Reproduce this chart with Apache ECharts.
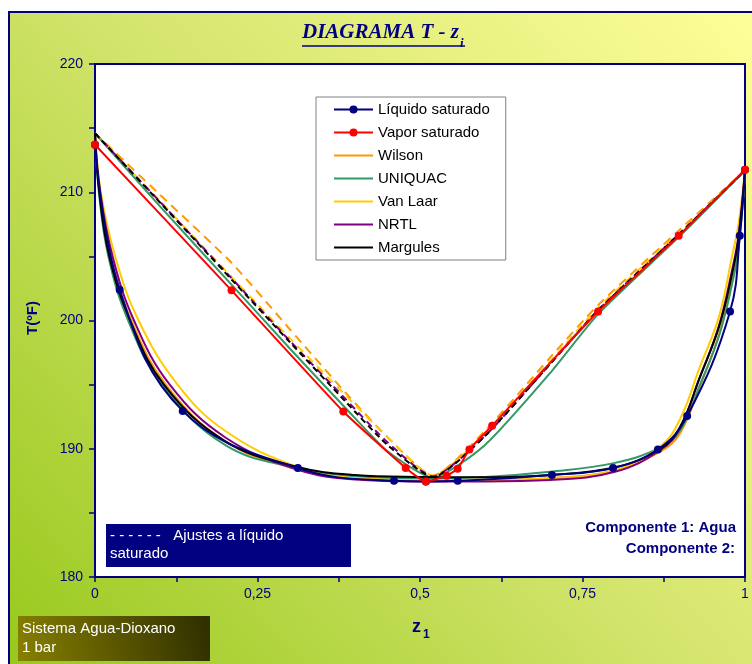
<!DOCTYPE html>
<html><head><meta charset="utf-8">
<script src="https://cdn.jsdelivr.net/npm/echarts@6/dist/echarts.min.js"></script>
<style>html,body{margin:0;padding:0;background:#fff}#c{width:752px;height:664px}</style>
</head><body><div id="c"></div>
<script>
// ---- data ----
const xTickLabels = ['0', '0,25', '0,5', '0,75', '1'];
const yTickLabels = [180, 190, 200, 210, 220];

const liquidData = [[0,213.7],[0.038,202.4],[0.135,192.95],[0.312,188.5],[0.46,187.5],[0.509,187.45],[0.558,187.5],[0.703,187.95],[0.797,188.5],[0.866,189.95],[0.911,192.55],[0.977,200.7],[0.992,206.6],[1,211.75]];
const vaporData = [[0,213.7],[0.21,202.35],[0.382,192.9],[0.478,188.5],[0.509,187.45],[0.541,187.9],[0.558,188.45],[0.576,189.95],[0.611,191.8],[0.774,200.7],[0.898,206.6],[1,211.75]];

const wilsonLiq = [[0,214.6],[0.007,210],[0.024,205],[0.056,200],[0.109,195],[0.2,190.6],[0.31,188.4],[0.4,187.7],[0.5,187.55],[0.6,187.55],[0.7,187.7],[0.8,188.3],[0.87,189.8],[0.9,191.2],[0.93,194.8],[0.96,198.9],[0.98,203.0],[0.99,205.7],[1,211.7]];
const uniquacLiq = [[0,214.6],[0.006,210],[0.0205,205],[0.051,200],[0.103,195],[0.2,190.3],[0.31,188.5],[0.4,187.85],[0.5,187.7],[0.6,187.8],[0.7,188.2],[0.8,188.9],[0.87,190.1],[0.9,191.4],[0.93,194.9],[0.96,198.8],[0.98,202.8],[0.99,205.6],[1,211.7]];
const vanlaarLiq = [[0,214.6],[0.009,210],[0.031,205],[0.067,200],[0.127,195],[0.2,191.4],[0.31,188.6],[0.4,187.7],[0.5,187.55],[0.6,187.6],[0.7,187.7],[0.8,188.35],[0.87,190.2],[0.9,192.3],[0.93,196.3],[0.96,200.3],[0.98,205.0],[0.99,207.5],[1,211.7]];
const nrtlLiq = [[0,214.6],[0.008,210],[0.027,205],[0.06,200],[0.115,195],[0.2,190.9],[0.31,188.4],[0.4,187.6],[0.5,187.45],[0.6,187.45],[0.7,187.56],[0.8,188.2],[0.87,189.9],[0.9,191.6],[0.93,195.5],[0.96,199.6],[0.98,203.9],[0.99,206.6],[1,211.7]];
const margulesLiq = [[0,214.6],[0.0065,210],[0.022,205],[0.054,200],[0.106,195],[0.2,190.6],[0.31,188.6],[0.4,187.95],[0.5,187.8],[0.6,187.77],[0.7,187.95],[0.8,188.55],[0.87,190.0],[0.9,191.7],[0.93,195.5],[0.96,199.5],[0.98,203.6],[0.99,206.4],[1,211.7]];

const wilsonVap = [[0,214.6],[0.1,209.8],[0.21,204.5],[0.3,199.3],[0.385,194.4],[0.45,190.9],[0.52,187.9],[0.6,191.4],[0.7,197.1],[0.774,201.2],[0.9,207.1],[1,211.7]];
const uniquacVap = [[0,214.6],[0.1,208.9],[0.21,202.8],[0.3,197.8],[0.385,193.2],[0.45,189.8],[0.52,187.75],[0.6,190.3],[0.7,195.9],[0.774,200.5],[0.9,206.6],[1,211.7]];
const vanlaarVap = [[0,214.6],[0.1,209.3],[0.21,203.4],[0.3,198.6],[0.385,194.2],[0.45,190.9],[0.52,187.9],[0.6,191.2],[0.7,196.8],[0.774,201.0],[0.9,206.9],[1,211.7]];
const nrtlVap = [[0,214.6],[0.1,209.25],[0.21,203.3],[0.3,198.4],[0.385,193.9],[0.45,190.5],[0.52,187.85],[0.6,191.0],[0.7,196.6],[0.774,200.8],[0.9,206.8],[1,211.7]];
const margulesVap = [[0,214.6],[0.1,209.2],[0.21,203.2],[0.3,198.3],[0.385,193.7],[0.45,190.3],[0.52,187.8],[0.6,191.0],[0.7,196.6],[0.774,200.8],[0.9,206.8],[1,211.7]];

// ---- chart ----
const NAVY = '#000080';
const FONT = '"Liberation Sans", Arial, sans-serif';
const chart = echarts.init(document.getElementById('c'), null, {renderer: 'canvas'});

function model(name, color, liq, vap, dash) {
  return [
    {name, type: 'line', data: liq, symbol: 'none', smooth: 0.4,
     lineStyle: {color, width: 2}, itemStyle: {color}, z: 2},
    {name, type: 'line', data: vap, symbol: 'none', smooth: 0.2,
     lineStyle: {color, width: 2, type: dash}, itemStyle: {color}, z: 2}
  ];
}
const noMark = {color: 'rgba(0,0,0,0)', borderWidth: 0};

const option = {
  animation: false,
  textStyle: {fontFamily: FONT},
  grid: {left: 95, right: 7, top: 64, bottom: 87, show: true, backgroundColor: '#fff',
         borderColor: NAVY, borderWidth: 2},
  xAxis: {type: 'value', min: 0, max: 1, interval: 0.125,
    axisLine: {show: true, lineStyle: {color: NAVY, width: 2}},
    axisTick: {show: true, length: 5, lineStyle: {color: NAVY, width: 1.5}},
    splitLine: {show: false},
    axisLabel: {color: NAVY, fontSize: 14, margin: 10, fontFamily: FONT,
      formatter: v => { const i = Math.round(v / 0.25); return Math.abs(v - i * 0.25) < 1e-6 ? xTickLabels[i] : ''; }}
  },
  yAxis: {type: 'value', min: 180, max: 220, interval: 5,
    axisLine: {show: true, lineStyle: {color: NAVY, width: 2}},
    axisTick: {show: true, length: 6, lineStyle: {color: NAVY, width: 1.5}},
    splitLine: {show: false},
    axisLabel: {color: NAVY, fontSize: 14, margin: 12, fontFamily: FONT,
      formatter: v => yTickLabels.includes(v) ? String(v) : ''}
  },
  legend: {
    orient: 'vertical', left: 316, top: 97,
    padding: [5, 16, 5, 17], itemGap: 8, itemWidth: 39, itemHeight: 10,
    backgroundColor: '#fff', borderColor: '#808080', borderWidth: 1, borderRadius: 0,
    textStyle: {color: '#000', fontSize: 15, fontFamily: FONT},
    data: [
      {name: 'Líquido saturado'}, {name: 'Vapor saturado'},
      {name: 'Wilson', itemStyle: noMark}, {name: 'UNIQUAC', itemStyle: noMark},
      {name: 'Van Laar', itemStyle: noMark}, {name: 'NRTL', itemStyle: noMark},
      {name: 'Margules', itemStyle: noMark}
    ]
  },
  series: [
    {name: 'Líquido saturado', type: 'line', data: liquidData, symbol: 'circle', symbolSize: 8,
     smooth: 0.4, lineStyle: {color: NAVY, width: 2}, itemStyle: {color: NAVY}, z: 3},
    {name: 'Vapor saturado', type: 'line', data: vaporData, symbol: 'circle', symbolSize: 8,
     smooth: 0.15, lineStyle: {color: '#ff0000', width: 2}, itemStyle: {color: '#ff0000'}, z: 3},
    ...model('Wilson', '#ff9900', wilsonLiq, wilsonVap, [9, 6]),
    ...model('UNIQUAC', '#339966', uniquacLiq, uniquacVap, 'solid'),
    ...model('Van Laar', '#ffcc00', vanlaarLiq, vanlaarVap, [8, 6]),
    ...model('NRTL', '#800080', nrtlLiq, nrtlVap, [7, 5]),
    ...model('Margules', '#000000', margulesLiq, margulesVap, [6, 4])
  ],
  graphic: [
    {type: 'rect', z: -10, silent: true, shape: {x: 9, y: 12, width: 760, height: 670},
     style: {fill: new echarts.graphic.LinearGradient(0, 1, 1, 0, [
        {offset: 0, color: '#96c81a'}, {offset: 0.5, color: '#d3e46c'}, {offset: 1, color: '#ffff99'}]),
       stroke: NAVY, lineWidth: 2}},
    {type: 'text', x: 302, y: 43, z: 10, style: {text: 'DIAGRAMA T - z', fill: NAVY,
      font: 'italic bold 21px "Liberation Serif", serif', textVerticalAlign: 'bottom'}},
    {type: 'text', x: 460, y: 50, z: 10, style: {text: 'i', fill: NAVY,
      font: 'italic bold 13px "Liberation Serif", serif', textVerticalAlign: 'bottom'}},
    {type: 'line', z: 10, shape: {x1: 302, y1: 46, x2: 465, y2: 46}, style: {stroke: NAVY, lineWidth: 1.5}},
    {type: 'text', x: 33, y: 318, rotation: Math.PI / 2, z: 10, style: {text: 'T(ºF)', fill: NAVY,
      font: 'bold 15px ' + FONT, textAlign: 'center', textVerticalAlign: 'middle'}},
    {type: 'text', x: 412, y: 636, z: 10, style: {text: 'z', fill: NAVY,
      font: 'bold 18px ' + FONT, textVerticalAlign: 'bottom'}},
    {type: 'text', x: 423, y: 641, z: 10, style: {text: '1', fill: NAVY,
      font: 'bold 12px ' + FONT, textVerticalAlign: 'bottom'}},
    {type: 'rect', z: 10, shape: {x: 106, y: 524, width: 245, height: 43}, style: {fill: NAVY}},
    {type: 'text', x: 110, y: 536, z: 11, style: {text: '- - - - - -   Ajustes a líquido', fill: '#fff',
      font: '15px ' + FONT, textVerticalAlign: 'middle'}},
    {type: 'text', x: 110, y: 554, z: 11, style: {text: 'saturado', fill: '#fff',
      font: '15px ' + FONT, textVerticalAlign: 'middle'}},
    {type: 'text', x: 736, y: 528, z: 10, style: {text: 'Componente 1: Agua', fill: NAVY,
      font: 'bold 15px ' + FONT, textAlign: 'right', textVerticalAlign: 'middle'}},
    {type: 'text', x: 735, y: 549, z: 10, style: {text: 'Componente 2:', fill: NAVY,
      font: 'bold 15px ' + FONT, textAlign: 'right', textVerticalAlign: 'middle'}},
    {type: 'rect', z: 10, shape: {x: 18, y: 616, width: 192, height: 45},
     style: {fill: new echarts.graphic.LinearGradient(0, 1, 1, 0, [
        {offset: 0, color: '#878000'}, {offset: 1, color: '#2e2e00'}])}},
    {type: 'text', x: 22, y: 629, z: 11, style: {text: 'Sistema Agua-Dioxano', fill: '#fff',
      font: '15px ' + FONT, textVerticalAlign: 'middle'}},
    {type: 'text', x: 22, y: 648, z: 11, style: {text: '1 bar', fill: '#fff',
      font: '15px ' + FONT, textVerticalAlign: 'middle'}}
  ]
};
chart.setOption(option);
</script>
</body></html>
